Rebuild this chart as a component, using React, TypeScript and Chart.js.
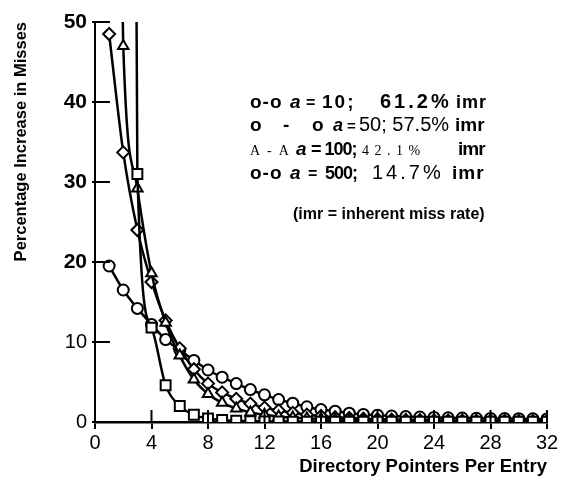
import React, { useEffect, useRef } from "react";
import { Chart, registerables } from "chart.js";

Chart.register(...registerables);

// ---- data ----
const pointers = [1, 2, 3, 4, 5, 6, 7, 8, 9, 10, 11, 12, 13, 14, 15, 16, 17, 18, 19, 20, 21, 22, 23, 24, 25, 26, 27, 28, 29, 30, 31, 32];
const a10 = [19.5, 16.5, 14.2, 12.2, 10.3, 9.0, 7.7, 6.5, 5.6, 4.8, 4.05, 3.4, 2.8, 2.35, 1.9, 1.55, 1.35, 1.1, 0.95, 0.85, 0.75, 0.68, 0.62, 0.57, 0.52, 0.5, 0.47, 0.45, 0.43, 0.41, 0.4, 0.38];
const a50 = [48.5, 33.7, 24.0, 17.5, 12.7, 9.2, 6.6, 4.8, 3.7, 2.9, 2.3, 1.8, 1.45, 1.15, 0.92, 0.75, 0.6, 0.5, 0.42, 0.35, 0.3, 0.26, 0.23, 0.2, 0.18, 0.16, 0.15, 0.14, 0.13, 0.12, 0.11, 0.1];
const a100 = [150, 47, 29.2, 18.6, 12.4, 8.3, 5.3, 3.5, 2.4, 1.7, 1.2, 0.9, 0.7, 0.55, 0.45, 0.38, 0.32, 0.28, 0.25, 0.22, 0.2, 0.18, 0.16, 0.15, 0.14, 0.13, 0.12, 0.11, 0.1, 0.1, 0.1, 0.1];
const a500 = [null, 400, 31, 11.8, 4.6, 2.0, 0.9, 0.45, 0.25, 0.15, 0.1, 0.08, 0.06, 0.05, 0.05, 0.05, 0.05, 0.05, 0.05, 0.05, 0.05, 0.05, 0.05, 0.05, 0.05, 0.05, 0.05, 0.05, 0.05, 0.05, 0.05, 0.05];

const xTickStep = 4;
const yTickStep = 10;
const boldYTicks = [20, 30, 40, 50];

const FONT = "'Liberation Sans', Arial, Helvetica, sans-serif";
const SERIF = "'Liberation Serif', 'Times New Roman', serif";

type Seg = [number, string, string, string?];
const legendLines: { y: number; segs: Seg[] }[] = [
  {
    y: 108,
    segs: [
      [250, "o-o", `bold 19px ${FONT}`, "1px"],
      [290, "a", `italic bold 19px ${FONT}`],
      [306, "=", `bold 16px ${FONT}`],
      [322, "10;", `bold 19px ${FONT}`, "2px"],
      [380, "61.2%", `bold 20px ${FONT}`, "3px"],
      [456, "imr", `bold 18px ${FONT}`, "1px"],
    ],
  },
  {
    y: 131,
    segs: [
      [250, "o", `bold 19px ${FONT}`],
      [283, "-", `bold 19px ${FONT}`],
      [312, "o", `bold 19px ${FONT}`],
      [333, "a", `italic bold 18px ${FONT}`],
      [347, "=", `bold 15px ${FONT}`],
      [359, "50; 57.5%", `20px ${FONT}`],
      [455, "imr", `bold 19px ${FONT}`],
    ],
  },
  {
    y: 155,
    segs: [
      [250, "A  -  A", `14px ${SERIF}`],
      [296, "a", `italic bold 19px ${FONT}`],
      [311, "= 100;", `bold 18px ${FONT}`, "-1px"],
      [362, "4 2 . 1 %", `14px ${SERIF}`, "1px"],
      [458, "imr", `bold 19px ${FONT}`, "-1px"],
    ],
  },
  {
    y: 179,
    segs: [
      [250, "o-o", `bold 19px ${FONT}`, "1px"],
      [290, "a", `italic bold 19px ${FONT}`],
      [308, "=", `bold 16px ${FONT}`],
      [325, "500;", `bold 18px ${FONT}`, "-1px"],
      [372, "14.7%", `20px ${FONT}`, "3px"],
      [452, "imr", `bold 19px ${FONT}`, "1px"],
    ],
  },
  {
    y: 219,
    segs: [[293, "(imr = inherent miss rate)", `bold 16px ${FONT}`]],
  },
];

const legendPlugin = {
  id: "customLegend",
  afterDraw(chart: any) {
    const ctx = chart.ctx as CanvasRenderingContext2D;
    ctx.save();
    ctx.fillStyle = "#000";
    ctx.textBaseline = "alphabetic";
    ctx.textAlign = "left";
    for (const line of legendLines) {
      for (const [x, text, font, spacing] of line.segs) {
        ctx.font = font;
        (ctx as any).letterSpacing = spacing || "0px";
        ctx.fillText(text, x, line.y);
      }
    }
    (ctx as any).letterSpacing = "0px";
    ctx.restore();
  },
};

const innerTicksPlugin = {
  id: "innerTicks",
  afterDatasetsDraw(chart: any) {
    const { ctx, chartArea, scales } = chart;
    const x = scales.x;
    const y = scales.y;
    ctx.save();
    ctx.strokeStyle = "#000";
    ctx.lineWidth = 2;
    for (const t of y.ticks) {
      const py = y.getPixelForValue(t.value);
      ctx.beginPath();
      ctx.moveTo(chartArea.left, py);
      ctx.lineTo(chartArea.left + 15, py);
      ctx.stroke();
    }
    for (const t of x.ticks) {
      const px = x.getPixelForValue(t.value);
      ctx.beginPath();
      ctx.moveTo(px, chartArea.bottom);
      ctx.lineTo(px, chartArea.bottom - 12);
      ctx.stroke();
    }
    ctx.restore();
  },
};

function series(values: (number | null)[], style: string, radius: number) {
  return {
    data: pointers.map((p, i) => ({ x: p, y: values[i] })),
    borderColor: "#000",
    borderWidth: 2.5,
    pointStyle: style,
    pointRadius: radius,
    pointBorderWidth: 2,
    pointBackgroundColor: "#fff",
    pointBorderColor: "#000",
    cubicInterpolationMode: "monotone" as const,
    fill: false,
    spanGaps: false,
  };
}

export default function App() {
  const ref = useRef<HTMLCanvasElement>(null);
  useEffect(() => {
    if (!ref.current) return;
    const chart = new Chart(ref.current, {
      type: "line",
      data: {
        datasets: [
          series(a500, "rect", 7),
          series(a100, "triangle", 6),
          series(a50, "rectRot", 6),
          series(a10, "circle", 5.5),
        ] as any,
      },
      options: {
        animation: false,
        responsive: false,
        devicePixelRatio: 1,
        layout: { padding: { left: 0, right: 14, top: 22, bottom: 0 } },
        plugins: { legend: { display: false }, tooltip: { enabled: false } },
        scales: {
          x: {
            type: "linear",
            min: 0,
            max: 32,
            afterFit: (s: any) => {
              s.height = 59;
            },
            ticks: {
              stepSize: xTickStep,
              color: "#000",
              padding: 2,
              maxRotation: 0,
              font: { family: FONT, size: 20 },
            },
            grid: { display: true, drawOnChartArea: false, drawTicks: true, tickLength: 7, color: "#000", lineWidth: 2 },
            border: { display: true, color: "#000", width: 2.5 },
            title: {
              display: true,
              text: "Directory Pointers Per Entry",
              align: "end",
              color: "#000",
              font: { family: FONT, size: 18.5, weight: "bold" },
              padding: { top: 0, bottom: 3 },
            },
          },
          y: {
            type: "linear",
            min: 0,
            max: 50,
            afterFit: (s: any) => {
              s.width = 95;
            },
            ticks: {
              stepSize: yTickStep,
              color: "#000",
              padding: 5,
              font: (c: any) => {
                const bold = c.tick && boldYTicks.includes(c.tick.value);
                return { family: FONT, size: bold ? 21 : 20, weight: bold ? "bold" : "normal" };
              },
            },
            grid: { display: true, drawOnChartArea: false, drawTicks: true, tickLength: 3, color: "#000", lineWidth: 2 },
            border: { display: true, color: "#000", width: 2 },
            title: {
              display: true,
              text: "Percentage Increase in Misses",
              align: "end",
              color: "#000",
              font: { family: FONT, size: 16.5, weight: "bold" },
              padding: { top: 12, bottom: 0 },
            },
          },
        },
      } as any,
      plugins: [innerTicksPlugin, legendPlugin],
    });
    return () => chart.destroy();
  }, []);
  return (
    <div style={{ position: "absolute", left: 0, top: 0, width: 561, height: 481, background: "#fff" }}>
      <canvas ref={ref} width={561} height={481} style={{ width: 561, height: 481, display: "block" }} />
    </div>
  );
}
